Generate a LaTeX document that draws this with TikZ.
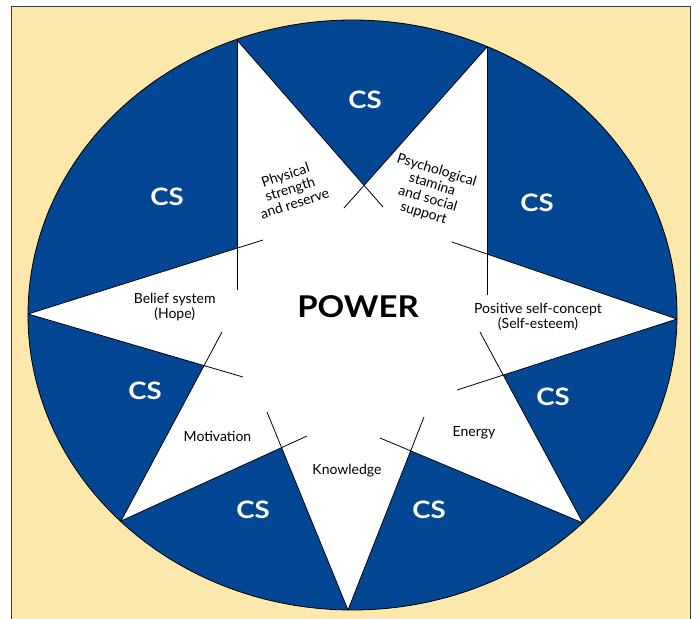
\documentclass[tikz,border=0pt]{standalone}
\usepackage{fontspec}
\setmainfont{Lato}
\definecolor{csblue}{RGB}{2,70,148}
\definecolor{bgyellow}{RGB}{253,232,172}
\definecolor{framegray}{RGB}{60,60,60}
\tikzset{
  cs/.style={text=white,font=\fontsize{24}{24}\selectfont\bfseries,anchor=base,xscale=1.15},
  ray/.style={line width=0.8pt},
  lbl/.style={font=\fontsize{14}{15}\selectfont,align=center,inner sep=0pt},
}
\begin{document}
\begin{tikzpicture}[x=10pt,y=-10pt]
\useasboundingbox (0,0) rectangle (69.7,61.9);
\clip (0,0) rectangle (69.7,61.9);
\fill[white] (0,0) rectangle (69.7,61.9);
\draw[framegray,fill=bgyellow,line width=0.8pt] (1.1,0.6) rectangle (69.0,64);

% tips of the star
\coordinate (t1) at (23.7,4.0);
\coordinate (t2) at (48.7,4.7);
\coordinate (t3) at (67.7,31.9);
\coordinate (t4) at (58.3,52.3);
\coordinate (t5) at (34.8,61.0);
\coordinate (t6) at (12.1,52.1);
\coordinate (t7) at (2.8,31.4);
% inner ends of the rays
\coordinate (a1) at (23.7,29.0); \coordinate (b1) at (38.3,20.7);
\coordinate (a2) at (34.4,20.8); \coordinate (b2) at (48.7,29.5);
\coordinate (a3) at (45.2,24.2); \coordinate (b3) at (45.7,39.0);
\coordinate (a4) at (48.0,33.2); \coordinate (b4) at (38.0,43.8);
\coordinate (a5) at (42.4,41.7); \coordinate (b5) at (26.7,41.2);
\coordinate (a6) at (30.7,43.6); \coordinate (b6) at (22.2,33.2);
\coordinate (a7) at (24.3,37.7); \coordinate (b7) at (26.3,24.0);

\fill[csblue] (35.25,31.5) ellipse [x radius=32.45,y radius=29.5];

\begin{scope}
\clip (35.25,31.5) ellipse [x radius=32.45,y radius=29.5];
\fill[white] (t1) -- (intersection of t1--b1 and t2--a2)
  -- (t2) -- (intersection of t2--b2 and t3--a3)
  -- (t3) -- (intersection of t3--b3 and t4--a4)
  -- (t4) -- (intersection of t4--b4 and t5--a5)
  -- (t5) -- (intersection of t5--b5 and t6--a6)
  -- (t6) -- (intersection of t6--b6 and t7--a7)
  -- (t7) -- (intersection of t7--b7 and t1--a1) -- cycle;
\end{scope}

\foreach \k in {1,...,7}{
  \draw[ray] (t\k) -- (a\k);
  \draw[ray] (t\k) -- (b\k);
}
\draw[ray] (35.25,31.5) ellipse [x radius=32.45,y radius=29.5];

\node[cs] (cs1) at (36.5,10.8) {CS};
\node[cs] (cs2) at (53.7,21.1) {CS};
\node[cs] (cs3) at (55.3,40.5) {CS};
\node[cs] (cs4) at (42.9,51.8) {CS};
\node[cs] (cs5) at (25.3,51.8) {CS};
\node[cs] (cs6) at (14.5,39.9) {CS};
\node[cs] (cs7) at (16.7,20.5) {CS};

\node[font=\fontsize{30}{30}\selectfont\bfseries,anchor=base,xscale=1.1] (power) at (35.8,31.7) {POWER};

\node[lbl,rotate=18] (phys) at (29.0,18.9) {Physical\\strength\\and reserve};
\node[lbl,rotate=-17] (psych) at (43.0,19.2) {Psychological\\stamina\\and social\\support};
\node[lbl,anchor=base] (self) at (53.8,32.8) {Positive self-concept\\(Self-esteem)};
\node[lbl,anchor=base] (energy) at (47.4,43.6) {Energy};
\node[lbl,anchor=base] (know) at (34.7,47.4) {Knowledge};
\node[lbl,anchor=base] (motiv) at (21.75,44.1) {Motivation};
\node[lbl,anchor=base] (belief) at (17.47,31.8) {Belief system\\(Hope)};
\end{tikzpicture}
\end{document}
